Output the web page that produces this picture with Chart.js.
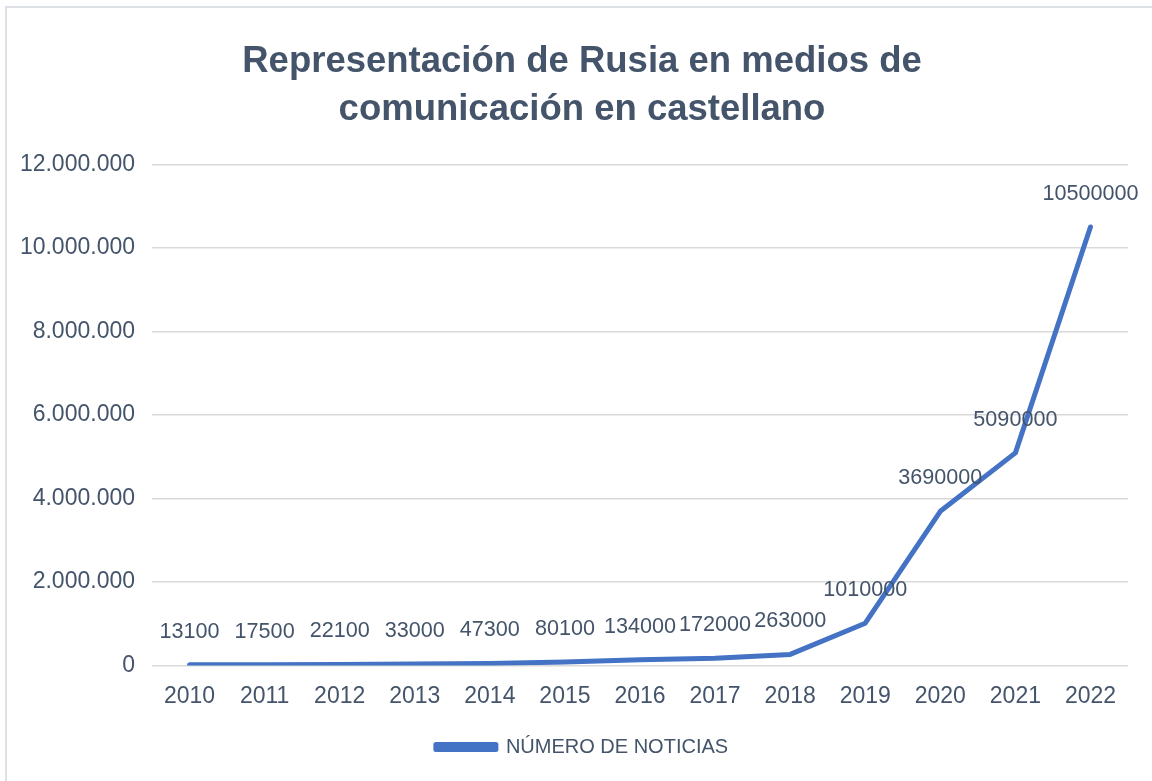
<!DOCTYPE html>
<html>
<head>
<meta charset="utf-8">
<script src="https://cdn.jsdelivr.net/npm/chart.js@4"></script>
<style>
  body { margin: 0; background: #fff; overflow: hidden; }
  #frame { position: absolute; left: 5px; top: 6px; width: 1400px; height: 1000px; border: 2px solid #dde1e6; }
  #wrap { position: absolute; left: 0; top: 0; width: 1152px; height: 781px; }
</style>
</head>
<body>
<div id="frame"></div>
<div id="wrap"><canvas id="chart"></canvas></div>
<script>
// años y número de noticias
const years = ["2010", "2011", "2012", "2013", "2014", "2015", "2016", "2017", "2018", "2019", "2020", "2021", "2022"];
const noticias = [13100, 17500, 22100, 33000, 47300, 80100, 134000, 172000, 263000, 1010000, 3690000, 5090000, 10500000];
const yTicks = [0, 2000000, 4000000, 6000000, 8000000, 10000000, 12000000];

const textColor = "#44546a";
const fontName = "'Liberation Sans', Arial, sans-serif";

// separador de miles con punto
function formatDots(v) {
  return String(v).replace(/\B(?=(\d{3})+(?!\d))/g, ".");
}

// etiquetas de datos encima de cada punto
const valueLabels = {
  id: "valueLabels",
  afterDatasetsDraw(chart) {
    const ctx = chart.ctx;
    const meta = chart.getDatasetMeta(0);
    ctx.save();
    ctx.font = "21.6px " + fontName;
    ctx.fillStyle = textColor;
    ctx.textAlign = "center";
    ctx.textBaseline = "middle";
    meta.data.forEach((pt, i) => {
      ctx.fillText(String(noticias[i]), pt.x, pt.y - 33);
    });
    ctx.restore();
  },
};

// centrar título y leyenda un poco más a la derecha
const shiftBoxes = {
  id: "shiftBoxes",
  afterLayout(chart) {
    if (chart.titleBlock) chart.titleBlock.left = 36;
    if (chart.legend) chart.legend.left = 36;
  },
};

const ctx = document.getElementById("chart").getContext("2d");

new Chart(ctx, {
  type: "line",
  data: {
    labels: years,
    datasets: [
      {
        label: "NÚMERO DE NOTICIAS",
        data: noticias,
        borderColor: "#4472c4",
        backgroundColor: "#4472c4",
        borderWidth: 5,
        borderCapStyle: "round",
        borderJoinStyle: "round",
        pointRadius: 0,
        tension: 0,
      },
    ],
  },
  options: {
    responsive: true,
    maintainAspectRatio: false,
    animation: false,
    layout: { padding: { left: 0, right: 24, top: 0, bottom: 14 } },
    plugins: {
      title: {
        display: true,
        text: ["Representación de Rusia en medios de", "comunicación en castellano"],
        color: textColor,
        font: { family: fontName, size: 36.5, weight: "bold", lineHeight: 1.32 },
        padding: { top: 38, bottom: 30 },
      },
      legend: {
        position: "bottom",
        labels: {
          color: textColor,
          font: { family: fontName, size: 20 },
          boxWidth: 60,
          boxHeight: 5,
          padding: 10,
        },
      },
      tooltip: { enabled: false },
    },
    scales: {
      x: {
        offset: true,
        grid: { display: false, drawTicks: false },
        border: { display: false },
        ticks: { color: textColor, font: { family: fontName, size: 23 }, padding: 17 },
      },
      y: {
        min: 0,
        max: 12000000,
        afterBuildTicks(scale) {
          scale.ticks = yTicks.map((v) => ({ value: v }));
        },
        afterFit(scale) {
          scale.width = 152;
        },
        grid: { color: "#d9d9d9", lineWidth: 1.5, drawTicks: false },
        border: { display: false },
        ticks: {
          color: textColor,
          font: { family: fontName, size: 23 },
          padding: 17,
          callback: (v) => formatDots(v),
        },
      },
    },
  },
  plugins: [valueLabels, shiftBoxes],
});
</script>
</body>
</html>
